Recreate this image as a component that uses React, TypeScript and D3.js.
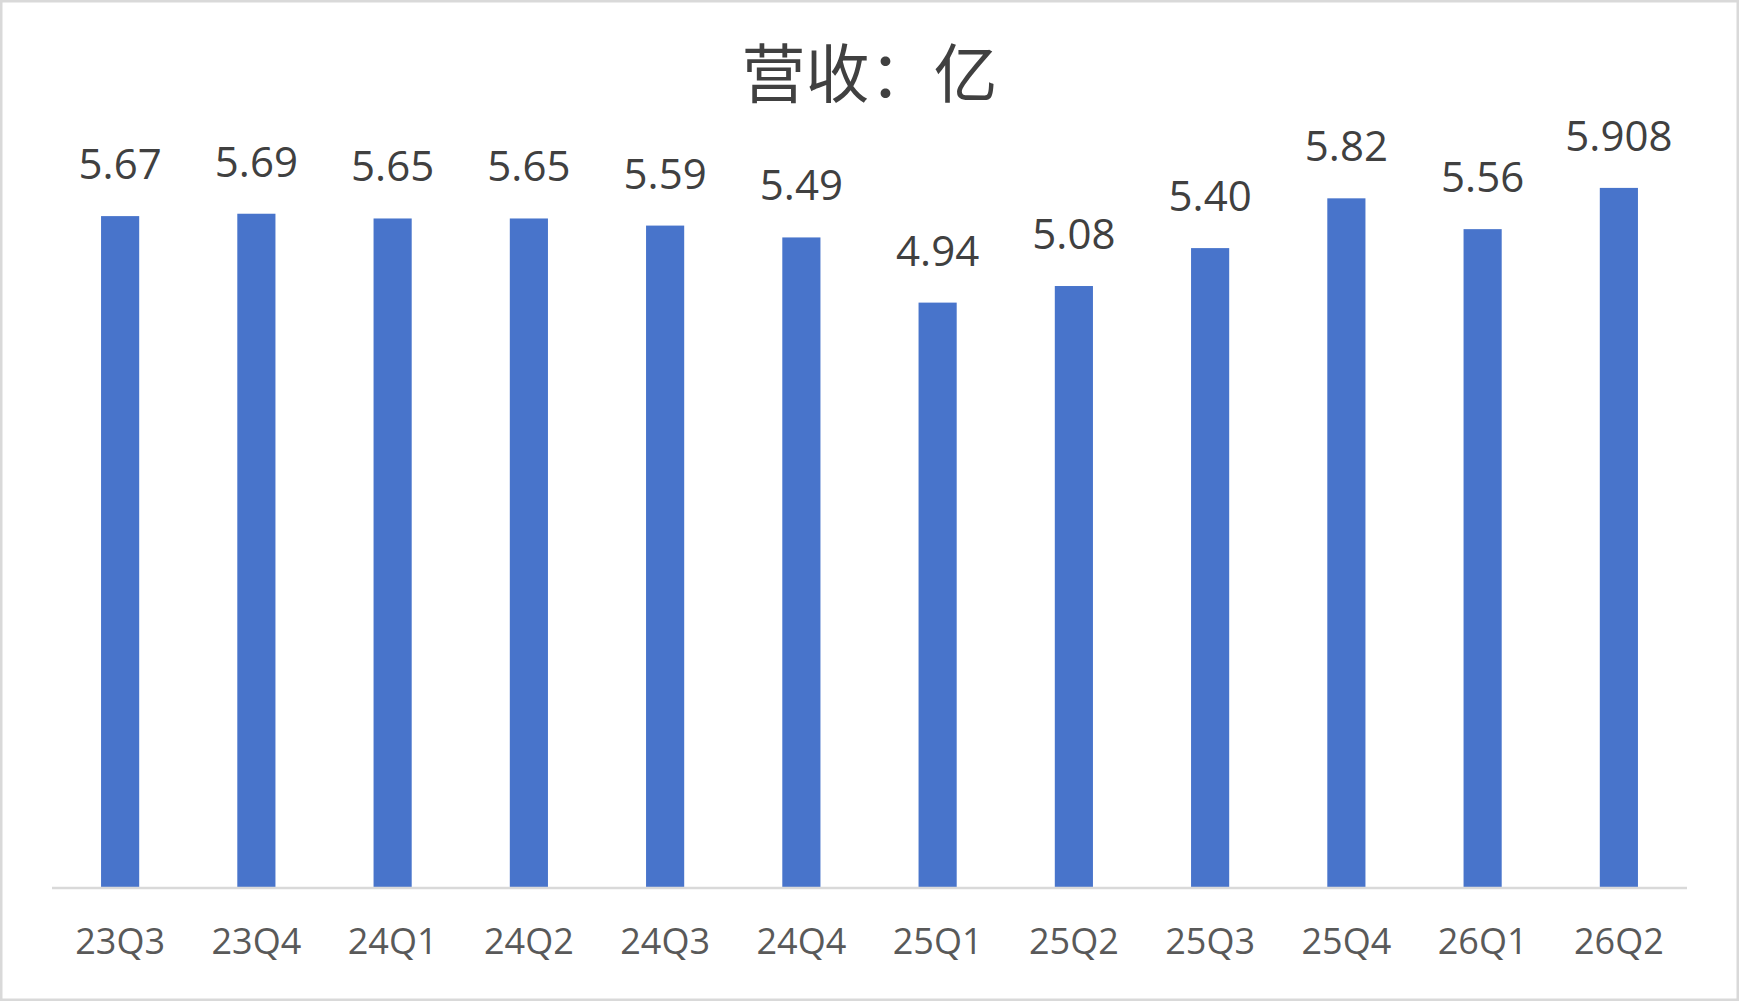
import React from "react";
import * as d3 from "d3";

const quarters = [
  "23Q3", "23Q4", "24Q1", "24Q2", "24Q3", "24Q4",
  "25Q1", "25Q2", "25Q3", "25Q4", "26Q1", "26Q2",
];
const revenue = [5.67, 5.69, 5.65, 5.65, 5.59, 5.49, 4.94, 5.08, 5.4, 5.82, 5.56, 5.908];
const revenueLabels = [
  "5.67", "5.69", "5.65", "5.65", "5.59", "5.49",
  "4.94", "5.08", "5.40", "5.82", "5.56", "5.908",
];
const title = "营收：亿";

const width = 1739;
const height = 1001;
const plot = { left: 52, right: 1687, top: 177, bottom: 888 };

const App: React.FC = () => {
  const x = d3
    .scaleBand<string>()
    .domain(quarters)
    .range([plot.left, plot.right])
    .paddingInner(0.72)
    .paddingOuter(0.36);

  const y = d3.scaleLinear().domain([0, 6]).range([plot.bottom, plot.top]);

  return (
    <svg
      width={width}
      height={height}
      style={{ position: "fixed", left: 0, top: 0, background: "#fff" }}
    >
      <rect
        x={1.25}
        y={1.25}
        width={width - 2.5}
        height={height - 2.5}
        fill="#fff"
        stroke="#d9d9d9"
        strokeWidth={2.5}
      />

      <text
        x={width / 2}
        y={97}
        textAnchor="middle"
        fontFamily="'Noto Sans CJK SC', sans-serif"
        fontSize={64}
        fill="#404040"
      >
        {title}
      </text>

      {/* bars */}
      {quarters.map((q, i) => (
        <rect
          key={q}
          x={x(q)}
          y={y(revenue[i])}
          width={x.bandwidth()}
          height={y(0) - y(revenue[i]) - 1}
          fill="#4874cb"
        />
      ))}

      {/* value labels */}
      {quarters.map((q, i) => (
        <text
          key={q + "-label"}
          x={(x(q) ?? 0) + x.bandwidth() / 2}
          y={y(revenue[i]) - 37}
          textAnchor="middle"
          fontFamily="'Open Sans', sans-serif"
          fontSize={42}
          fill="#404040"
        >
          {revenueLabels[i]}
        </text>
      ))}

      {/* category axis */}
      <line
        x1={plot.left}
        x2={plot.right}
        y1={plot.bottom}
        y2={plot.bottom}
        stroke="#d9d9d9"
        strokeWidth={2.5}
      />
      {quarters.map((q) => (
        <text
          key={q + "-tick"}
          x={(x(q) ?? 0) + x.bandwidth() / 2}
          y={954}
          textAnchor="middle"
          fontFamily="'Open Sans', sans-serif"
          fontSize={36}
          fill="#595959"
        >
          {q}
        </text>
      ))}
    </svg>
  );
};

export default App;
